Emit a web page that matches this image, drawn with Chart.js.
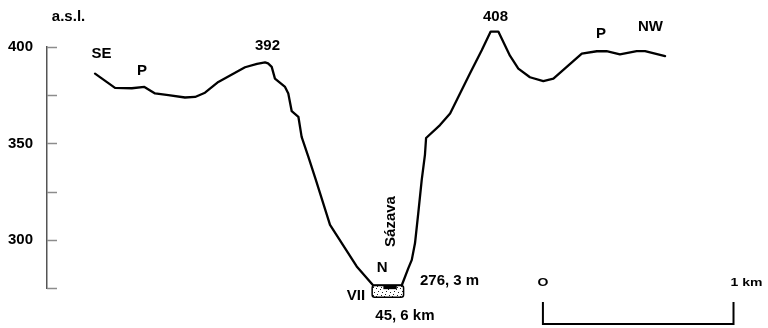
<!DOCTYPE html>
<html>
<head>
<meta charset="utf-8">
<script src="https://cdn.jsdelivr.net/npm/chart.js@4/dist/chart.umd.min.js"></script>
<style>
  html, body { margin: 0; padding: 0; background: #fff; }
  canvas { display: block; }
</style>
</head>
<body>
<canvas id="profile" width="768" height="328"></canvas>
<script>
// Cross-section of the Sázava valley, SE -> NW. Distance along the profile in metres.
const distance = [0, 105, 193, 259, 315, 385, 472, 525, 577, 647,
  787, 850, 892, 908, 927, 944, 997, 1014, 1032, 1067,
  1084, 1119, 1159, 1233, 1373, 1460, 1609, 1644, 1662, 1679,
  1696, 1714, 1731, 1737, 1810, 1863, 1967, 2029, 2076, 2116,
  2177, 2221, 2282, 2352, 2405, 2554, 2633, 2684, 2754, 2842,
  2886, 2991];
// Elevation above sea level (m)
const elevation = [386.2, 378.8, 378.6, 379.3, 375.9, 375.0, 373.8, 374.1, 376.3, 381.9,
  389.5, 391.3, 392, 391.5, 389.7, 383.6, 379.3, 375.9, 366.7, 363.8,
  353.4, 343.1, 331.0, 307.7, 286.2, 276.3, 276.3, 285.3, 289.6, 298.3,
  313.8, 331.0, 344.0, 352.8, 359.5, 365.5, 386.2, 398.3, 408, 408,
  395.5, 388.8, 384.3, 382.3, 383.6, 396.6, 397.8, 397.8, 396.2, 397.9,
  397.9, 395.3];

// Elevation axis
const yMin = 275, yMax = 400, yStep = 25;
const yLabelled = [300, 350, 400];

// River bed: gravel deposit and water channel (distance m, elevation m)
const depositSpan = [1454, 1619];
const depositLevels = [276.3, 270.2];
const waterSpan = [1513, 1583];
const waterLevels = [276.3, 274.4];

// Map scale bar: 0 to 1 km
const scaleBar = [2350, 3350];
const scaleBarText = ['O', '1 km'];

// Place names and spot heights: [text, distance, elevation]
const annotations = [
  ['a.s.l.', -139, 415.4],
  ['SE', 34, 396.5],
  ['P', 247, 387.4],
  ['392', 905, 400.6],
  ['408', 2101, 415.6],
  ['P', 2655, 406.6],
  ['NW', 2914, 410.5],
  ['N', 1506, 285.2],
  ['VII', 1369, 271.0],
  ['45, 6 km', 1626, 260.7]
];
const riverName = ['Sázava', 1553, 309.5];
const riverLevelText = ['276, 3 m', 1705, 278.5];

const FONT = 'bold 15px "Liberation Sans", Arial, sans-serif';

// sparse stipple used for the gravel fill
function stipple() {
  const c = document.createElement('canvas');
  c.width = 8; c.height = 8;
  const g = c.getContext('2d');
  g.fillStyle = '#fff';
  g.fillRect(0, 0, 8, 8);
  g.fillStyle = '#222';
  [[0, 0], [4, 1], [2, 3], [6, 4], [1, 6], [5, 7]].forEach(p => g.fillRect(p[0], p[1], 1, 1));
  return c;
}

const decorations = {
  id: 'decorations',
  afterDatasetsDraw(chart) {
    const ctx = chart.ctx;
    const xs = chart.scales.x, ys = chart.scales.y;
    const area = chart.chartArea;
    const px = v => xs.getPixelForValue(v);
    const py = v => ys.getPixelForValue(v);
    ctx.save();

    // inward tick marks on the elevation axis
    ctx.strokeStyle = '#8c8c8c';
    ctx.lineWidth = 1.5;
    ys.ticks.forEach(t => {
      const y = Math.round(py(t.value)) + 0.5;
      ctx.beginPath();
      ctx.moveTo(area.left, y);
      ctx.lineTo(area.left + 10, y);
      ctx.stroke();
    });

    // gravel deposit under the river
    const dx0 = px(depositSpan[0]), dx1 = px(depositSpan[1]);
    const dy0 = py(depositLevels[0]), dy1 = py(depositLevels[1]);
    ctx.beginPath();
    ctx.roundRect(dx0, dy0, dx1 - dx0, dy1 - dy0, 2.5);
    ctx.fillStyle = ctx.createPattern(stipple(), 'repeat');
    ctx.fill();
    ctx.lineWidth = 1.5;
    ctx.strokeStyle = '#000';
    ctx.stroke();
    // water channel
    ctx.fillStyle = '#000';
    const wx0 = px(waterSpan[0]), wx1 = px(waterSpan[1]);
    ctx.fillRect(wx0, py(waterLevels[0]), wx1 - wx0, py(waterLevels[1]) - py(waterLevels[0]));

    // text labels
    ctx.fillStyle = '#000';
    ctx.font = FONT;
    ctx.textAlign = 'center';
    ctx.textBaseline = 'middle';
    annotations.forEach(a => ctx.fillText(a[0], px(a[1]), py(a[2])));
    ctx.textAlign = 'left';
    ctx.fillText(riverLevelText[0], px(riverLevelText[1]), py(riverLevelText[2]));
    ctx.save();
    ctx.translate(px(riverName[1]), py(riverName[2]));
    ctx.rotate(-Math.PI / 2);
    ctx.textAlign = 'center';
    ctx.fillText(riverName[0], 0, 0);
    ctx.restore();

    // scale bar
    const sx0 = px(scaleBar[0]), sx1 = px(scaleBar[1]);
    const top = area.bottom + 14, bottom = area.bottom + 36;
    ctx.strokeStyle = '#000';
    ctx.lineWidth = 2;
    ctx.beginPath();
    ctx.moveTo(sx0, top);
    ctx.lineTo(sx0, bottom);
    ctx.lineTo(sx1, bottom);
    ctx.lineTo(sx1, top);
    ctx.stroke();
    ctx.font = 'bold 14px "Liberation Sans", Arial, sans-serif';
    ctx.textBaseline = 'middle';
    [[scaleBarText[0], sx0, 'center'], [scaleBarText[1], sx1 - 3, 'left']].forEach(s => {
      ctx.save();
      ctx.translate(s[1], area.bottom - 5);
      ctx.scale(1, 0.8);
      ctx.textAlign = s[2];
      ctx.fillText(s[0], 0, 0);
      ctx.restore();
    });
    ctx.restore();
  }
};

new Chart(document.getElementById('profile'), {
  type: 'line',
  data: {
    datasets: [{
      data: distance.map((d, i) => ({ x: d, y: elevation[i] })),
      borderColor: '#000',
      borderWidth: 2.3,
      borderJoinStyle: 'round',
      borderCapStyle: 'round',
      pointRadius: 0,
      tension: 0,
      fill: false,
      clip: false
    }]
  },
  options: {
    responsive: false,
    animation: false,
    layout: { padding: { top: 47, bottom: 40, left: 0, right: 8 } },
    plugins: { legend: { display: false }, tooltip: { enabled: false } },
    scales: {
      x: { type: 'linear', display: false, min: -252, max: 3489 },
      y: {
        min: yMin, max: yMax,
        afterFit(s) { s.width = 47; },
        border: { display: true, color: '#555', width: 1.5 },
        grid: { display: true, drawOnChartArea: false, drawTicks: false },
        ticks: {
          stepSize: yStep,
          padding: 14,
          color: '#000',
          font: { family: '"Liberation Sans", Arial, sans-serif', size: 15, weight: 'bold' },
          callback: v => yLabelled.includes(v) ? String(v) : ''
        }
      }
    }
  },
  plugins: [decorations]
});
</script>
</body>
</html>
